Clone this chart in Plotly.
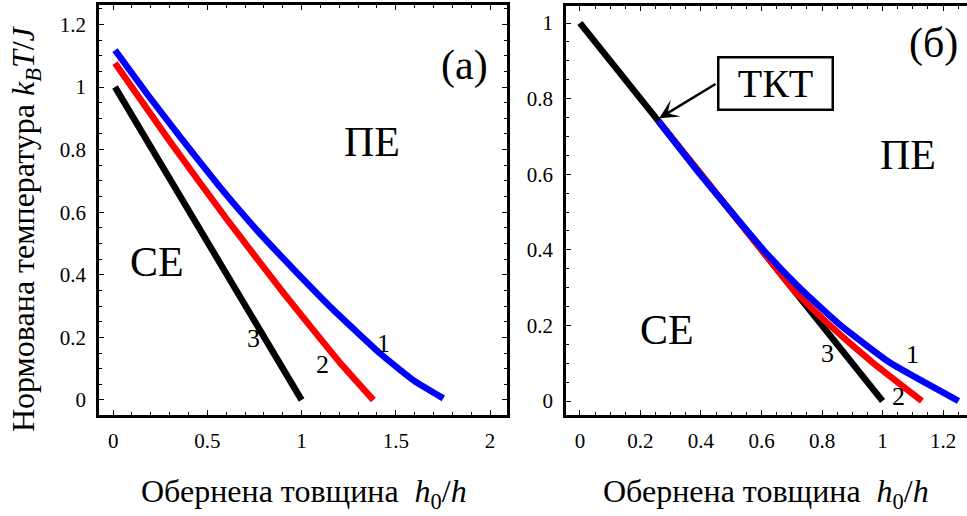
import plotly.graph_objects as go

# ---- panel (a): phase boundaries T_c(h0/h) ----
a_x1 = [0.01, 0.18, 0.355, 0.56, 0.762, 0.97, 1.169, 1.416, 1.6, 1.752]
a_y1 = [1.118, 0.978, 0.841, 0.685, 0.543, 0.41, 0.288, 0.149, 0.06, 0.005]
a_x2 = [0.01, 0.3, 0.6, 0.9, 1.2, 1.381]
a_y2 = [1.076, 0.827, 0.58, 0.345, 0.122, 0.0]
a_x3 = [0.01, 1.0]
a_y3 = [1.0, 0.0]

# ---- panel (б) ----
b_x1 = [0.259, 0.397, 0.606, 0.725, 0.86, 1.025, 1.251]
b_y1 = [0.741, 0.60, 0.40, 0.30, 0.201, 0.101, 0.0]
b_x2 = [0.259, 0.40, 0.60, 0.71, 0.826, 0.97, 1.13]
b_y2 = [0.741, 0.60, 0.40, 0.29, 0.20, 0.10, 0.0]
b_x3 = [0.0, 1.0]
b_y3 = [1.0, 0.0]

a_xticks = [0, 0.5, 1, 1.5, 2]
a_yticks = [0, 0.2, 0.4, 0.6, 0.8, 1, 1.2]
b_xticks = [0, 0.2, 0.4, 0.6, 0.8, 1, 1.2]
b_yticks = [0, 0.2, 0.4, 0.6, 0.8, 1]

FONT = "Liberation Serif"
LW = 6.5
TICK_SIZE = 21
REGION_SIZE = 42
NUM_SIZE = 26
TITLE_SIZE = 32

fig = go.Figure()


def add_curves(xs, ys, xa, ya):
    colors = ["black", "red", "blue"]
    for x, y, c in zip(xs, ys, colors):
        fig.add_trace(go.Scatter(x=x, y=y, mode="lines", xaxis=xa, yaxis=ya,
                                 line=dict(color=c, width=LW, shape="spline", smoothing=0.4),
                                 showlegend=False, hoverinfo="skip"))


add_curves([a_x3, a_x2, a_x1], [a_y3, a_y2, a_y1], "x", "y")
add_curves([b_x3, b_x2, b_x1], [b_y3, b_y2, b_y1], "x2", "y2")

W, H = 967, 516


def axis_common(**kw):
    d = dict(showline=True, linecolor="black", linewidth=2.5,
             ticks="inside", ticklen=5, tickwidth=1.2, tickcolor="black",
             showgrid=False, zeroline=False,
             tickfont=dict(family=FONT, size=TICK_SIZE, color="black"))
    d.update(kw)
    return d


def minor(step):
    return dict(dtick=step, tick0=0, ticks="inside", ticklen=3, tickcolor="black")


fig.update_layout(
    width=W, height=H, margin=dict(l=0, r=0, t=0, b=0),
    paper_bgcolor="white", plot_bgcolor="white",
    xaxis=axis_common(domain=[99 / W, 507 / W], range=[-0.075, 2.09], anchor="y",
                      tickvals=a_xticks, mirror="ticks", ticklabelstandoff=5, minor=minor(0.1)),
    yaxis=axis_common(domain=[101 / H, 511 / H], range=[-0.048, 1.262], anchor="x",
                      tickvals=a_yticks, mirror="ticks", ticklabelstandoff=6, minor=minor(0.05)),
    xaxis2=axis_common(domain=[566 / W, 1.0], range=[-0.046, 1.279], anchor="y2",
                       tickvals=b_xticks, mirror="ticks", ticklabelstandoff=5, minor=minor(0.05)),
    yaxis2=axis_common(domain=[101 / H, 510 / H], range=[-0.037, 1.045], anchor="x2",
                       tickvals=b_yticks, mirror=False, ticklabelstandoff=6, minor=minor(0.05)),
)


def label(text, x, y, size, xref="x", yref="y"):
    fig.add_annotation(text=text, x=x, y=y, xref=xref, yref=yref, showarrow=False,
                       font=dict(family=FONT, size=size, color="black"),
                       xanchor="center", yanchor="middle")


# panel (a) labels
label("(a)", 1.867, 1.07, REGION_SIZE)
label("ПЕ", 1.374, 0.824, REGION_SIZE)
label("СЕ", 0.233, 0.441, REGION_SIZE)
label("3", 0.743, 0.198, NUM_SIZE)
label("2", 1.109, 0.112, NUM_SIZE)
label("1", 1.432, 0.182, NUM_SIZE)

# panel (б) labels
label("(б)", 1.167, 0.947, REGION_SIZE, "x2", "y2")
label("ПЕ", 1.084, 0.651, REGION_SIZE, "x2", "y2")
label("СЕ", 0.288, 0.188, REGION_SIZE, "x2", "y2")
label("3", 0.817, 0.127, NUM_SIZE, "x2", "y2")
label("2", 1.051, 0.011, NUM_SIZE, "x2", "y2")
label("1", 1.098, 0.122, NUM_SIZE, "x2", "y2")

# tricritical point marker: boxed label and arrow
fig.add_annotation(text="ТКТ", x=0.645, y=0.841, xref="x2", yref="y2", showarrow=False,
                   font=dict(family=FONT, size=40, color="black"),
                   bordercolor="black", borderwidth=2.5, borderpad=1,
                   width=110, height=48, bgcolor="white")
fig.add_annotation(text="", x=0.262, y=0.748, xref="x2", yref="y2",
                   ax=0.453, ay=0.841, axref="x2", ayref="y2",
                   showarrow=True, arrowhead=3, arrowwidth=2.5, arrowsize=1.3,
                   arrowcolor="black", standoff=0)

# axis titles
fig.add_annotation(text="Нормована температура <i>k<sub>B</sub>T</i>/<i>J</i>",
                   x=25 / W, y=1 - 229 / H, xref="paper", yref="paper", showarrow=False,
                   textangle=-90, font=dict(family=FONT, size=TITLE_SIZE, color="black"),
                   xanchor="center", yanchor="middle")
xtitle = "Обернена товщина\u00a0\u00a0<i>h</i><sub>0</sub>/<i>h</i>"
fig.add_annotation(text=xtitle, x=303.5 / W, y=1 - 493 / H, xref="paper", yref="paper",
                   showarrow=False, font=dict(family=FONT, size=TITLE_SIZE, color="black"),
                   xanchor="center", yanchor="middle")
fig.add_annotation(text=xtitle, x=766 / W, y=1 - 493 / H, xref="paper", yref="paper",
                   showarrow=False, font=dict(family=FONT, size=TITLE_SIZE, color="black"),
                   xanchor="center", yanchor="middle")

fig.write_html("out.html")
